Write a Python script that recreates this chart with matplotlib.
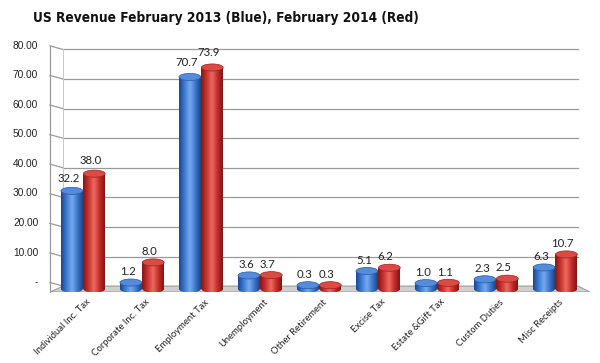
import numpy as np
import matplotlib
matplotlib.use('Agg')
import matplotlib.pyplot as plt
from matplotlib.patches import Rectangle, Ellipse, Polygon
from matplotlib.colors import LinearSegmentedColormap

categories = ['Individual Inc. Tax', 'Corporate Inc. Tax', 'Employment Tax',
              'Unemployment', 'Other Retirement', 'Excise Tax',
              'Estate &Gift Tax', 'Custom Duties', 'Misc Receipts']
feb_2013 = [32.2, 1.2, 70.7, 3.6, 0.3, 5.1, 1.0, 2.3, 6.3]
feb_2014 = [38.0, 8.0, 73.9, 3.7, 0.3, 6.2, 1.1, 2.5, 10.7]
yticks = [0, 10, 20, 30, 40, 50, 60, 70, 80]

blue_cmap = LinearSegmentedColormap.from_list(
    'bl', ['#1a4590', '#3c7cd2', '#78aaee', '#3c78cc', '#1c4486'])
red_cmap = LinearSegmentedColormap.from_list(
    'rd', ['#861615', '#c83230', '#ec6a62', '#c42e2a', '#821413'])

fig = plt.figure(figsize=(6, 3.63), dpi=100)
ax = fig.add_axes([50/600, 1-292/363, 540/600, (292-45)/363])
ax.set_xlim(-0.56, 8.59)
ax.set_ylim(-2, 81.5)
for s in ax.spines.values():
    s.set_visible(False)
ax.set_yticks([])

x0, x1 = -0.34, 8.39      # back wall extent
xf = -0.56                # front axis

# gridlines + little diagonal stubs to the front axis
for v in yticks:
    ax.plot([x0, x1], [v, v], color='#9a9a9a', lw=0.9, zorder=1)
    ax.plot([xf, x0], [v + 1.2, v], color='#9a9a9a', lw=0.9, zorder=1, clip_on=False)
    lab = '-' if v == 0 else f'{v:.2f}'
    ax.text(xf - 0.2, v + 1.3, lab, ha='right', va='center', fontsize=7.3,
            family='Liberation Sans', color='#222222', clip_on=False)
ax.plot([xf, xf], [-2, 81.2], color='#9a9a9a', lw=0.9, zorder=1, clip_on=False)
ax.plot([x0, x0], [0, 80], color='#c8c8c8', lw=0.7, zorder=1)

# floor
ax.add_patch(Polygon([(xf, -2), (x0, 0), (x1, 0), (8.59, -2)], closed=True,
                     facecolor='#cfcfcf', edgecolor='#9a9a9a', lw=0.7, zorder=1))

grad = np.linspace(0, 1, 64).reshape(1, -1)
bw = 0.37
eh = 2.4


def cylinder(xc, val, cmap, top, z):
    left = xc - bw / 2
    body = Rectangle((left, -1), bw, val + 1, facecolor='none', edgecolor='none')
    ax.add_patch(body)
    im = ax.imshow(grad, cmap=cmap, aspect='auto', extent=(left, left + bw, -2.5, val),
                   zorder=z, interpolation='bicubic')
    im.set_clip_path(body)
    bot = Ellipse((xc, -1), bw, eh, facecolor='none', edgecolor='none')
    ax.add_patch(bot)
    im2 = ax.imshow(grad, cmap=cmap, aspect='auto', extent=(left, left + bw, -2.5, val),
                    zorder=z, interpolation='bicubic')
    im2.set_clip_path(bot)
    ax.add_patch(Ellipse((xc, val), bw, eh, facecolor=top, edgecolor=cmap(0.1),
                         lw=0.5, zorder=z + 0.1))


xs = np.arange(len(categories))
for i in xs:
    b, r = feb_2013[i], feb_2014[i]
    cylinder(i - 0.19, b, blue_cmap, '#548bda', 2)
    ax.text(i - 0.19 - 0.05, b + 3.6 + b * 0.02, f'{b:.1f}', ha='center', va='center',
            fontsize=8.2, family='Lato', color='#222222', zorder=3)
    cylinder(i + 0.19, r, red_cmap, '#dc4a44', 4)
    ax.text(i + 0.19 - 0.06, r + 3.6 + r * 0.02, f'{r:.1f}', ha='center', va='center',
            fontsize=8.2, family='Lato', color='#222222', zorder=6)

ax.set_xticks(xs + 0.05)
ax.set_xticklabels(categories, rotation=45, ha='right', rotation_mode='anchor',
                   fontsize=6.8, family='Lato', color='#222222')
ax.tick_params(axis='x', length=0, pad=4)

fig.text(33/600, 1-18/363, 'US Revenue February 2013 (Blue), February 2014 (Red)',
         ha='left', va='center', fontsize=9.8, fontweight='bold',
         fontstretch='condensed', family='DejaVu Sans', color='#111111')

fig.savefig('out.png', dpi=100)
